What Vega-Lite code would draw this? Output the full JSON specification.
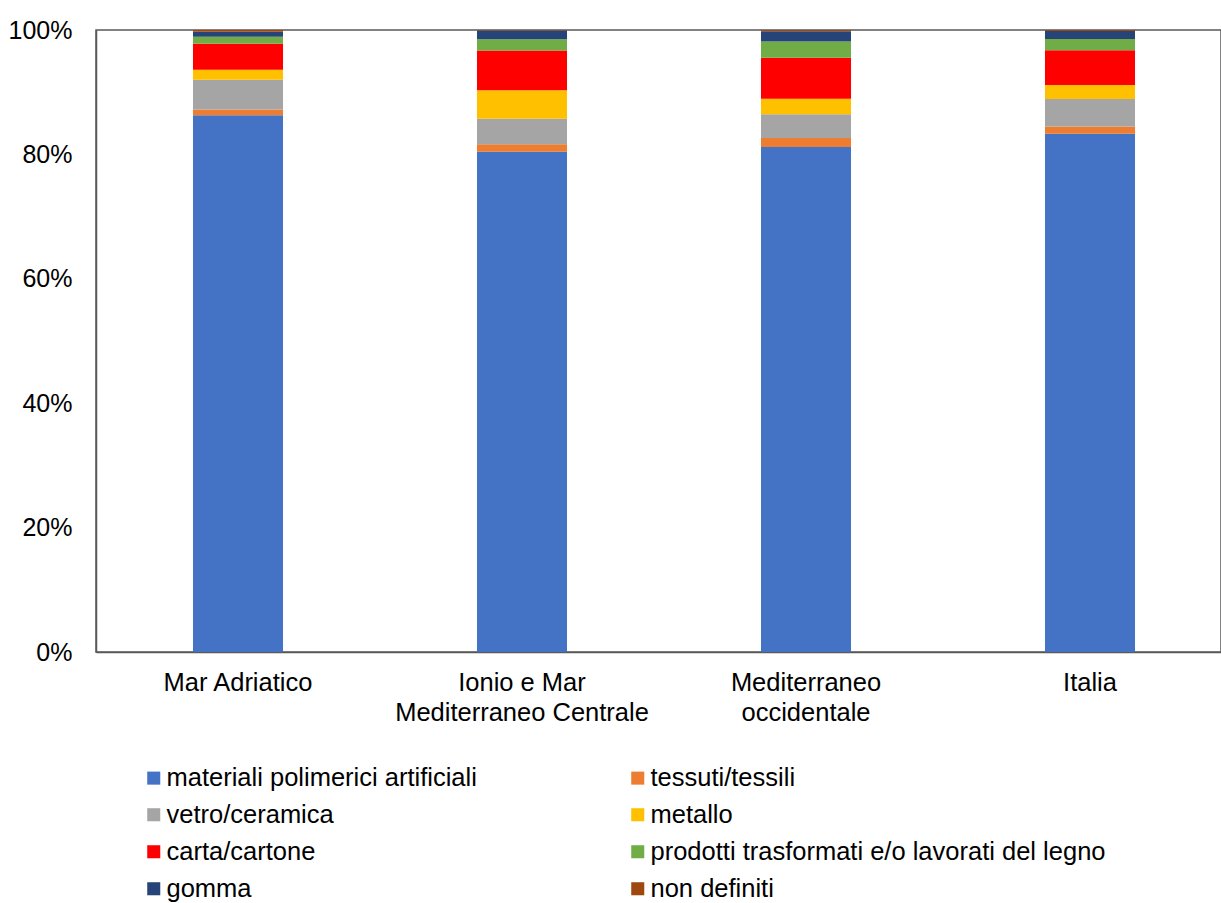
{
  "$schema": "https://vega.github.io/schema/vega-lite/v6.json",
  "autosize": {"type": "none"},
  "width": 1125,
  "height": 622,
  "padding": {"left": 96, "top": 30, "right": 0, "bottom": 251},
  "background": "white",
  "config": {
    "font": "Liberation Sans",
    "view": {"stroke": "#595959", "strokeWidth": 1.5},
    "axis": {"labelFont": "Liberation Sans", "labelFontSize": 25.5, "labelColor": "#000000", "grid": false, "ticks": false, "domainColor": "#595959", "domainWidth": 1.5, "title": null, "labelLimit": 400}
  },
  "data": {
    "values": [
      {"area": "Mar Adriatico", "materiale": "materiali polimerici artificiali", "ordine": 1, "pct": 86.3},
      {"area": "Mar Adriatico", "materiale": "tessuti/tessili", "ordine": 2, "pct": 0.9},
      {"area": "Mar Adriatico", "materiale": "vetro/ceramica", "ordine": 3, "pct": 4.8},
      {"area": "Mar Adriatico", "materiale": "metallo", "ordine": 4, "pct": 1.6},
      {"area": "Mar Adriatico", "materiale": "carta/cartone", "ordine": 5, "pct": 4.2},
      {"area": "Mar Adriatico", "materiale": "prodotti trasformati e/o lavorati del legno", "ordine": 6, "pct": 1.1},
      {"area": "Mar Adriatico", "materiale": "gomma", "ordine": 7, "pct": 0.8},
      {"area": "Mar Adriatico", "materiale": "non definiti", "ordine": 8, "pct": 0.3},
      {"area": "Ionio e Mar Mediterraneo Centrale", "materiale": "materiali polimerici artificiali", "ordine": 1, "pct": 80.5},
      {"area": "Ionio e Mar Mediterraneo Centrale", "materiale": "tessuti/tessili", "ordine": 2, "pct": 1.2},
      {"area": "Ionio e Mar Mediterraneo Centrale", "materiale": "vetro/ceramica", "ordine": 3, "pct": 4.1},
      {"area": "Ionio e Mar Mediterraneo Centrale", "materiale": "metallo", "ordine": 4, "pct": 4.6},
      {"area": "Ionio e Mar Mediterraneo Centrale", "materiale": "carta/cartone", "ordine": 5, "pct": 6.4},
      {"area": "Ionio e Mar Mediterraneo Centrale", "materiale": "prodotti trasformati e/o lavorati del legno", "ordine": 6, "pct": 1.8},
      {"area": "Ionio e Mar Mediterraneo Centrale", "materiale": "gomma", "ordine": 7, "pct": 1.4},
      {"area": "Ionio e Mar Mediterraneo Centrale", "materiale": "non definiti", "ordine": 8, "pct": 0.1},
      {"area": "Mediterraneo occidentale", "materiale": "materiali polimerici artificiali", "ordine": 1, "pct": 81.2},
      {"area": "Mediterraneo occidentale", "materiale": "tessuti/tessili", "ordine": 2, "pct": 1.45},
      {"area": "Mediterraneo occidentale", "materiale": "vetro/ceramica", "ordine": 3, "pct": 3.8},
      {"area": "Mediterraneo occidentale", "materiale": "metallo", "ordine": 4, "pct": 2.5},
      {"area": "Mediterraneo occidentale", "materiale": "carta/cartone", "ordine": 5, "pct": 6.6},
      {"area": "Mediterraneo occidentale", "materiale": "prodotti trasformati e/o lavorati del legno", "ordine": 6, "pct": 2.6},
      {"area": "Mediterraneo occidentale", "materiale": "gomma", "ordine": 7, "pct": 1.65},
      {"area": "Mediterraneo occidentale", "materiale": "non definiti", "ordine": 8, "pct": 0.2},
      {"area": "Italia", "materiale": "materiali polimerici artificiali", "ordine": 1, "pct": 83.3},
      {"area": "Italia", "materiale": "tessuti/tessili", "ordine": 2, "pct": 1.2},
      {"area": "Italia", "materiale": "vetro/ceramica", "ordine": 3, "pct": 4.4},
      {"area": "Italia", "materiale": "metallo", "ordine": 4, "pct": 2.25},
      {"area": "Italia", "materiale": "carta/cartone", "ordine": 5, "pct": 5.6},
      {"area": "Italia", "materiale": "prodotti trasformati e/o lavorati del legno", "ordine": 6, "pct": 1.8},
      {"area": "Italia", "materiale": "gomma", "ordine": 7, "pct": 1.3},
      {"area": "Italia", "materiale": "non definiti", "ordine": 8, "pct": 0.15}
    ]
  },
  "mark": {"type": "bar"},
  "encoding": {
    "x": {
      "field": "area",
      "type": "nominal",
      "sort": ["Mar Adriatico", "Ionio e Mar Mediterraneo Centrale", "Mediterraneo occidentale", "Italia"],
      "scale": {"range": [0, 1136], "paddingInner": 0.683, "paddingOuter": 0.3415},
      "axis": {
        "labelAngle": 0,
        "labelPadding": 18,
        "labelLineHeight": 30,
        "labelBaseline": "top",
        "labelExpr": "datum.label == 'Ionio e Mar Mediterraneo Centrale' ? ['Ionio e Mar', 'Mediterraneo Centrale'] : datum.label == 'Mediterraneo occidentale' ? ['Mediterraneo', 'occidentale'] : datum.label"
      }
    },
    "y": {
      "field": "pct",
      "type": "quantitative",
      "stack": "normalize",
      "scale": {"domain": [0, 1], "nice": false},
      "axis": {"values": [0, 0.2, 0.4, 0.6, 0.8, 1], "format": ".0%", "labelPadding": 24, "labelFontSize": 25}
    },
    "order": {"field": "ordine", "type": "quantitative", "sort": "ascending"},
    "color": {
      "field": "materiale",
      "type": "nominal",
      "sort": ["materiali polimerici artificiali", "tessuti/tessili", "vetro/ceramica", "metallo", "carta/cartone", "prodotti trasformati e/o lavorati del legno", "gomma", "non definiti"],
      "scale": {
        "domain": ["materiali polimerici artificiali", "tessuti/tessili", "vetro/ceramica", "metallo", "carta/cartone", "prodotti trasformati e/o lavorati del legno", "gomma", "non definiti"],
        "range": ["#4472C4", "#ED7D31", "#A5A5A5", "#FFC000", "#FF0000", "#70AD47", "#264478", "#9E480E"]
      },
      "legend": {
        "title": null,
        "orient": "none",
        "legendX": 45,
        "legendY": 735,
        "columns": 2,
        "direction": "horizontal",
        "columnPadding": 148,
        "rowPadding": 10,
        "symbolType": "square",
        "symbolSize": 170,
        "symbolStrokeWidth": 0,
        "symbolOffset": 0,
        "labelOffset": 0,
        "labelFontSize": 25.5,
        "labelFont": "Liberation Sans",
        "labelColor": "#000000",
        "labelLimit": 600
      }
    }
  }
}
